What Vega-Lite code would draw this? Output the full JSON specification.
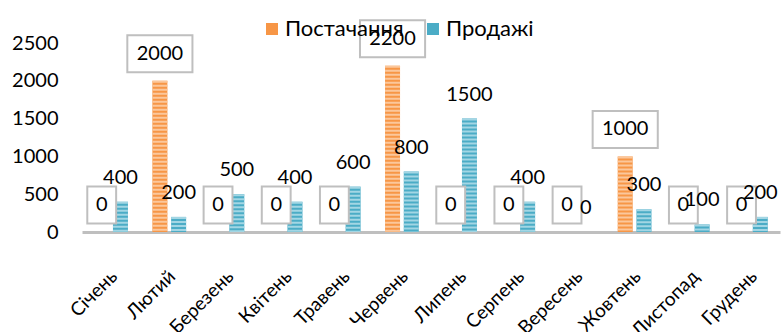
{
  "$schema": "https://vega.github.io/schema/vega-lite/v6.json",
  "width": 698,
  "height": 189,
  "autosize": {"type": "none"},
  "padding": {"left": 82, "top": 43, "right": 1, "bottom": 100},
  "background": "white",
  "config": {"view": {"stroke": null}, "font": "Lato"},
  "data": {
    "values": [
      {"month": "Січень", "series": "Постачання", "value": 0},
      {"month": "Лютий", "series": "Постачання", "value": 2000},
      {"month": "Березень", "series": "Постачання", "value": 0},
      {"month": "Квітень", "series": "Постачання", "value": 0},
      {"month": "Травень", "series": "Постачання", "value": 0},
      {"month": "Червень", "series": "Постачання", "value": 2200},
      {"month": "Липень", "series": "Постачання", "value": 0},
      {"month": "Серпень", "series": "Постачання", "value": 0},
      {"month": "Вересень", "series": "Постачання", "value": 0},
      {"month": "Жовтень", "series": "Постачання", "value": 1000},
      {"month": "Листопад", "series": "Постачання", "value": 0},
      {"month": "Грудень", "series": "Постачання", "value": 0},
      {"month": "Січень", "series": "Продажі", "value": 400},
      {"month": "Лютий", "series": "Продажі", "value": 200},
      {"month": "Березень", "series": "Продажі", "value": 500},
      {"month": "Квітень", "series": "Продажі", "value": 400},
      {"month": "Травень", "series": "Продажі", "value": 600},
      {"month": "Червень", "series": "Продажі", "value": 800},
      {"month": "Липень", "series": "Продажі", "value": 1500},
      {"month": "Серпень", "series": "Продажі", "value": 400},
      {"month": "Вересень", "series": "Продажі", "value": 0},
      {"month": "Жовтень", "series": "Продажі", "value": 300},
      {"month": "Листопад", "series": "Продажі", "value": 100},
      {"month": "Грудень", "series": "Продажі", "value": 200}
    ]
  },
  "encoding": {
    "x": {
      "field": "month",
      "type": "nominal",
      "sort": ["Січень", "Лютий", "Березень", "Квітень", "Травень", "Червень", "Липень", "Серпень", "Вересень", "Жовтень", "Листопад", "Грудень"],
      "scale": {"paddingInner": 0.42, "paddingOuter": 0.21},
      "axis": {
        "title": null,
        "labelAngle": -45,
        "labelAlign": "right",
        "labelBaseline": "middle",
        "labelPadding": 41,
        "labelOffset": 3,
        "labelFontSize": 19,
        "labelColor": "black",
        "ticks": false,
        "domainColor": "#BFBFBF",
        "domainWidth": 3
      }
    },
    "xOffset": {
      "field": "series",
      "type": "nominal",
      "scale": {"domain": ["Постачання", "Продажі"], "paddingInner": 0.2, "paddingOuter": 0}
    },
    "y": {
      "field": "value",
      "type": "quantitative",
      "scale": {"domain": [0, 2500], "nice": false},
      "axis": {
        "title": null,
        "values": [0, 500, 1000, 1500, 2000, 2500],
        "format": "d",
        "labelFontSize": 20,
        "labelColor": "black",
        "ticks": false,
        "domain": false,
        "grid": false,
        "labelPadding": 24
      }
    }
  },
  "layer": [
    {
      "mark": {"type": "bar"},
      "encoding": {
        "color": {
          "field": "series",
          "type": "nominal",
          "scale": {"domain": ["Постачання", "Продажі"], "range": ["#F79646", "#4BACC6"]},
          "legend": {
            "title": null,
            "orient": "none",
            "legendX": 179,
            "legendY": -25,
            "direction": "horizontal",
            "symbolType": "square",
            "symbolSize": 144,
            "symbolStrokeWidth": 0,
            "labelFontSize": 22,
            "labelFont": "Lato",
            "labelColor": "black",
            "labelOffset": 2,
            "labelLimit": 0,
            "columnPadding": 18
          }
        }
      }
    },
    {
      "mark": {"type": "rule", "strokeWidth": 15, "strokeDash": [2, 2]},
      "encoding": {
        "y2": {"datum": 0},
        "stroke": {
          "field": "series",
          "type": "nominal",
          "scale": {"domain": ["Постачання", "Продажі"], "range": ["#FBC79C", "#A3D6E4"]},
          "legend": null
        }
      }
    },
    {
      "transform": [{"filter": "datum.series === 'Постачання'"}],
      "mark": {"type": "point", "filled": true, "fill": "white", "stroke": "#BFBFBF", "strokeWidth": 2, "opacity": 1, "size": 1369, "yOffset": -27},
      "encoding": {
        "shape": {
          "condition": {"test": "datum.value >= 1000", "value": "M-1.76,-1H1.76V1H-1.76Z"},
          "value": "M-0.78,-1H0.78V1H-0.78Z"
        }
      }
    },
    {
      "transform": [{"filter": "datum.series === 'Постачання'"}],
      "mark": {"type": "text", "fontSize": 20, "font": "Lato", "color": "black", "baseline": "middle", "yOffset": -27},
      "encoding": {"text": {"field": "value", "type": "quantitative"}}
    },
    {
      "transform": [{"filter": "datum.series === 'Продажі'"}],
      "mark": {"type": "text", "fontSize": 20, "font": "Lato", "color": "black", "baseline": "middle", "yOffset": -24},
      "encoding": {"text": {"field": "value", "type": "quantitative"}}
    }
  ]
}
